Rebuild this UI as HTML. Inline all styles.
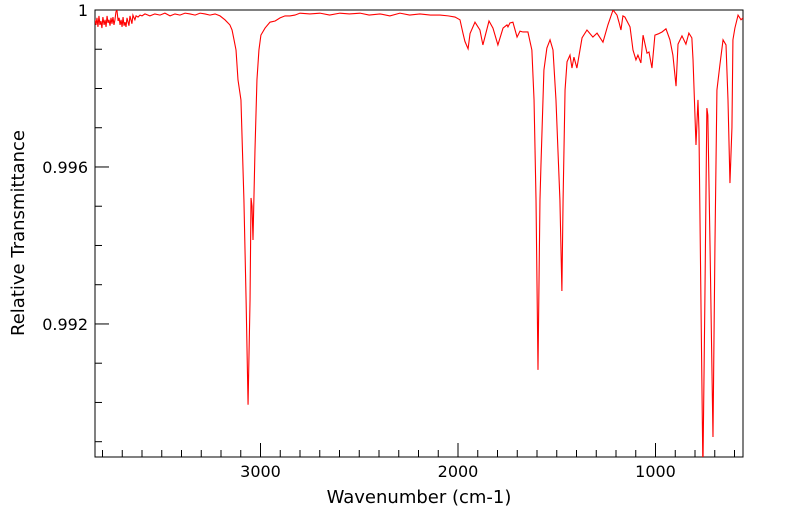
<!DOCTYPE html>
<html><head><meta charset="utf-8"><style>
html,body{margin:0;padding:0;background:#fff;width:799px;height:516px;overflow:hidden}
svg{display:block;font-family:"DejaVu Sans","Liberation Sans",sans-serif}
</style></head><body>
<svg id="chart" width="799" height="516" viewBox="0 0 799 516">
<defs><clipPath id="plotclip"><rect x="95" y="10" width="648" height="447"/></clipPath></defs>
<rect x="95" y="10" width="648" height="447" fill="#fff" stroke="#000" stroke-width="1"/>
<g id="ticks"></g>
<g id="labels"></g>
<path id="spec" fill="none" stroke="#ff0000" stroke-width="1.1" clip-path="url(#plotclip)"/>
<text x="419" y="503" text-anchor="middle" font-size="18">Wavenumber (cm-1)</text>
<text transform="translate(24,233) rotate(-90)" text-anchor="middle" font-size="18">Relative Transmittance</text>
</svg>
<script>
const wavenumbers=[3838,3833,3828,3823,3818,3813,3808,3803,3798,3792,3787,3782,3777,3772,3767,3762,3757,3752,3747,3742,3737,3732,3727,3721,3716,3711,3706,3701,3696,3691,3686,3681,3676,3666,3661,3651,3646,3636,3630,3620,3610,3600,3585,3560,3535,3509,3484,3458,3433,3408,3382,3357,3331,3306,3281,3256,3230,3205,3180,3155,3144,3134,3124,3114,3099,3084,3073,3063,3053,3048,3043,3038,3028,3018,3008,2998,2977,2952,2926,2901,2876,2851,2826,2800,2750,2699,2650,2598,2550,2496,2450,2395,2345,2294,2245,2193,2140,2091,2050,2015,1990,1975,1965,1949,1939,1914,1889,1874,1843,1823,1798,1772,1752,1747,1737,1722,1701,1686,1671,1646,1626,1615,1605,1595,1585,1580,1565,1550,1534,1519,1504,1494,1484,1474,1468,1458,1448,1433,1423,1413,1398,1372,1347,1317,1296,1266,1241,1215,1195,1185,1175,1165,1155,1129,1114,1099,1089,1074,1063,1043,1033,1018,1003,987,967,947,927,912,896,886,866,846,831,816,810,795,785,780,770,760,750,740,735,724,709,699,689,674,658,643,633,623,613,608,598,582,567,557];
const transmittance=[0.99975,0.99962,0.99980,0.99957,0.99985,0.99962,0.99972,0.99954,0.99982,0.99962,0.99975,0.99957,0.99985,0.99967,0.99975,0.99960,0.99980,0.99965,0.99982,0.99962,0.99975,0.99995,1.00000,0.99972,0.99980,0.99962,0.99975,0.99957,0.99982,0.99960,0.99969,0.99957,0.99980,0.99960,0.99985,0.99965,0.99987,0.99975,0.99985,0.99982,0.99987,0.99985,0.99990,0.99985,0.99990,0.99987,0.99992,0.99985,0.99990,0.99987,0.99992,0.99990,0.99987,0.99992,0.99990,0.99987,0.99990,0.99985,0.99975,0.99962,0.99949,0.99924,0.99898,0.99822,0.99771,0.99516,0.99261,0.98994,0.99261,0.99521,0.99500,0.99414,0.99643,0.99822,0.99898,0.99936,0.99954,0.99969,0.99972,0.99980,0.99985,0.99985,0.99987,0.99992,0.99990,0.99992,0.99987,0.99992,0.99990,0.99992,0.99987,0.99990,0.99985,0.99992,0.99987,0.99990,0.99987,0.99987,0.99985,0.99982,0.99975,0.99941,0.99920,0.99901,0.99940,0.99969,0.99949,0.99911,0.99972,0.99954,0.99911,0.99954,0.99962,0.99957,0.99967,0.99969,0.99931,0.99946,0.99944,0.99944,0.99898,0.99771,0.99516,0.99083,0.99516,0.99605,0.99847,0.99903,0.99924,0.99898,0.99771,0.99643,0.99516,0.99284,0.99516,0.99796,0.99868,0.99885,0.99852,0.99880,0.99852,0.99929,0.99949,0.99931,0.99941,0.99918,0.99962,1.00000,0.99987,0.99969,0.99949,0.99985,0.99982,0.99957,0.99898,0.99873,0.99885,0.99865,0.99936,0.99890,0.99893,0.99852,0.99936,0.99939,0.99944,0.99952,0.99924,0.99885,0.99806,0.99913,0.99934,0.99913,0.99941,0.99929,0.99873,0.99656,0.99771,0.99694,0.99261,0.98828,0.99261,0.99750,0.99732,0.99400,0.98912,0.99400,0.99796,0.99860,0.99924,0.99911,0.99771,0.99559,0.99700,0.99924,0.99954,0.99987,0.99975,0.99980];
const xTicksMajor=[3000,2000,1000];
const xTickLabels=["3000","2000","1000"];
const yTicksMajor=[1,0.996,0.992];
const yTickLabels=["1","0.996","0.992"];
const X0=3838,X1=557,Y0=1.0,Y1=0.98861;
const L=95,R=743,T=10,B=457;
function xs(w){return L+(X0-w)/(X0-X1)*(R-L);}
function ys(v){return T+(Y0-v)/(Y0-Y1)*(B-T);}
const NS="http://www.w3.org/2000/svg";
let d="";
for(let i=0;i<wavenumbers.length;i++){d+=(i?"L":"M")+xs(wavenumbers[i]).toFixed(2)+","+ys(transmittance[i]).toFixed(2);}
document.getElementById("spec").setAttribute("d",d);
const tg=document.getElementById("ticks"),lg=document.getElementById("labels");
function line(x1,y1,x2,y2){const l=document.createElementNS(NS,"line");l.setAttribute("x1",x1);l.setAttribute("y1",y1);l.setAttribute("x2",x2);l.setAttribute("y2",y2);l.setAttribute("stroke","#000");l.setAttribute("stroke-width","1");


tg.appendChild(l);}
for(let w=3800;w>=600;w-=100){const x=xs(w);const major=w%1000===0;line(x,B,x,B-(major?14:7));}
for(let k=0;k<=11;k++){const v=1-k*0.001;const y=ys(v);if(y>B)break;const major=k%4===0;line(L,y,L+(major?14:7),y);}
for(let i=0;i<xTicksMajor.length;i++){const t=document.createElementNS(NS,"text");t.setAttribute("x",xs(xTicksMajor[i]));t.setAttribute("y",B+20);t.setAttribute("text-anchor","middle");t.setAttribute("font-size","16");t.textContent=xTickLabels[i];


lg.appendChild(t);}
for(let i=0;i<yTicksMajor.length;i++){const t=document.createElementNS(NS,"text");t.setAttribute("x",L-7);t.setAttribute("y",ys(yTicksMajor[i])+6);t.setAttribute("text-anchor","end");t.setAttribute("font-size","16");t.textContent=yTickLabels[i];


lg.appendChild(t);}
</script>
</body></html>
